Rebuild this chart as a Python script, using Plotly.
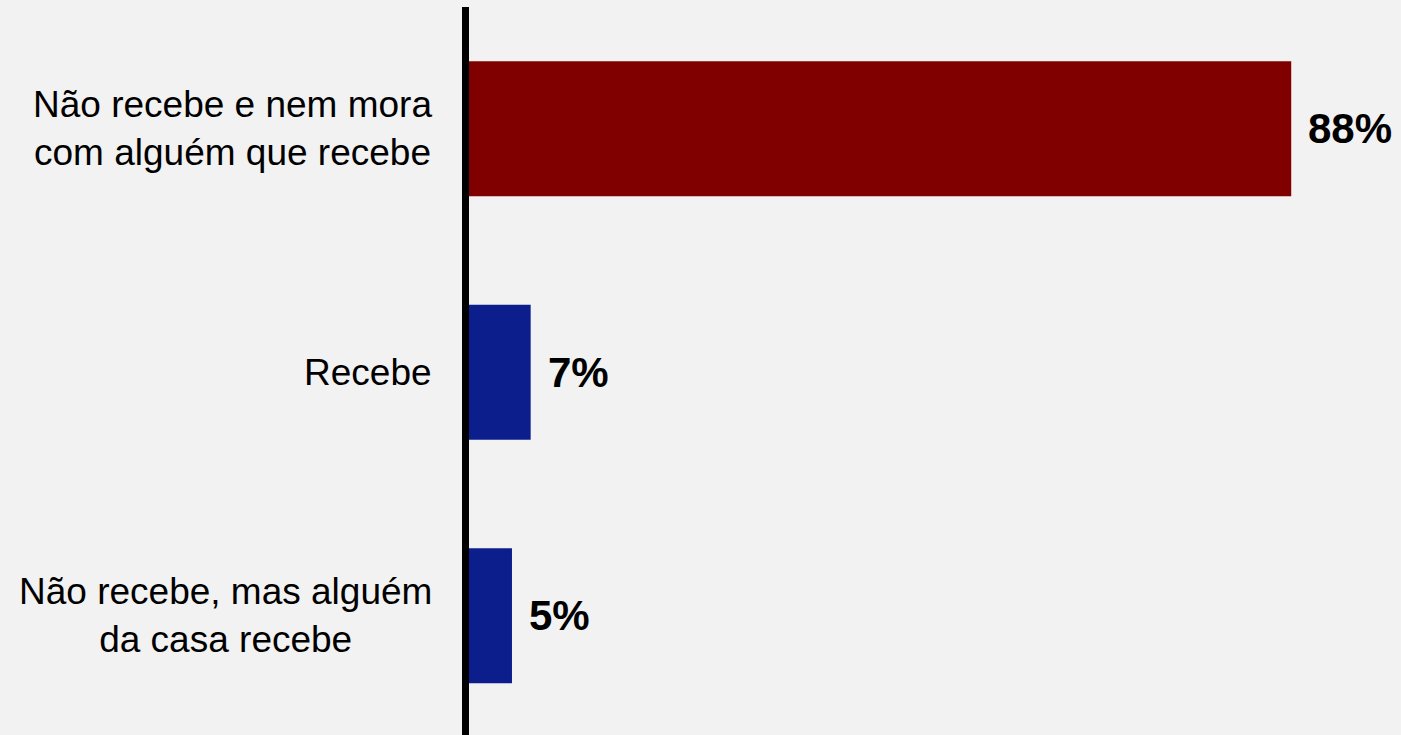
import plotly.graph_objects as go

categories = [
    "Não recebe e nem mora<br>com alguém que recebe",
    "Recebe",
    "Não recebe, mas alguém<br>da casa recebe",
]
values = [88, 6.6, 4.6]
value_labels = ["88%", "7%", "5%"]
bar_colors = ["#800000", "#0c1e8c", "#0c1e8c"]

FONT = "Arial, 'Liberation Sans', sans-serif"

fig = go.Figure()
fig.add_trace(
    go.Bar(
        x=values,
        y=categories,
        orientation="h",
        marker={"color": bar_colors, "line": {"width": 0}},
        hoverinfo="skip",
    )
)

# category labels, centred multi-line, right edge a little left of the axis
for cat in categories:
    fig.add_annotation(
        x=0, xref="paper", y=cat, yref="y",
        text=cat, showarrow=False,
        xanchor="right", yanchor="middle", align="center",
        xshift=-35,
        font={"family": FONT, "size": 37, "color": "#000000"},
    )

# value labels to the right of each bar
for cat, val, lab in zip(categories, values, value_labels):
    fig.add_annotation(
        x=val, y=cat, text=f"<b>{lab}</b>", showarrow=False,
        xanchor="left", yanchor="middle", xshift=15,
        font={"family": FONT, "size": 42, "color": "#000000"},
    )

fig.update_layout(
    width=1401,
    height=735,
    paper_bgcolor="#f2f2f2",
    plot_bgcolor="#f2f2f2",
    margin={"l": 469, "r": 7, "t": 7, "b": 0},
    bargap=0.446,
    showlegend=False,
    xaxis={
        "range": [0, 99],
        "visible": False,
        "showgrid": False,
        "zeroline": False,
    },
    yaxis={
        "range": [2.49, -0.5],
        "showticklabels": False,
        "showgrid": False,
        "zeroline": False,
        "showline": True,
        "linecolor": "#000000",
        "linewidth": 7,
        "ticks": "",
    },
)

fig.write_html(
    "out.html",
    config={"displayModeBar": False},
    post_script="document.body.style.margin='0';"
    "document.body.style.background='#f2f2f2';",
)
